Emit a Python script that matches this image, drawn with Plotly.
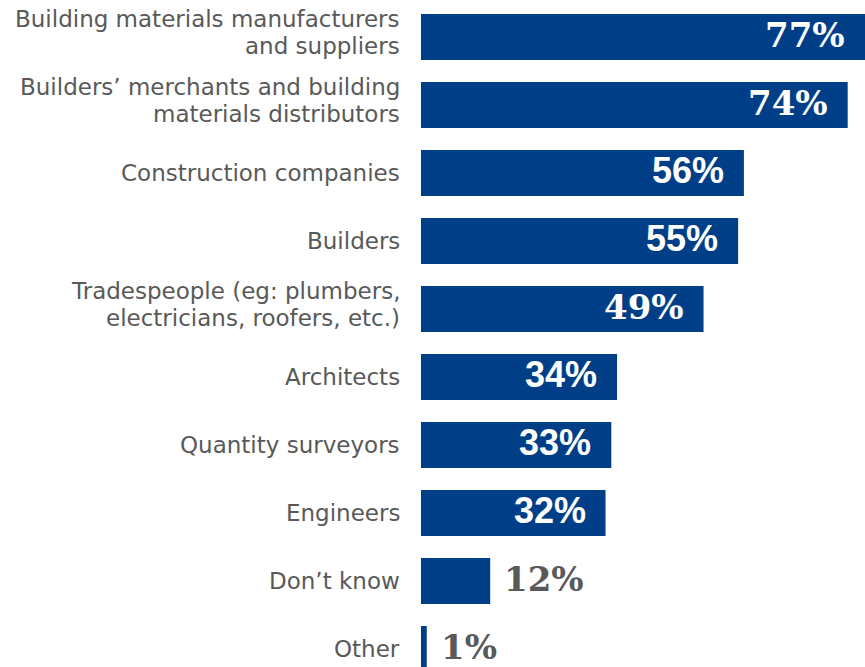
import plotly.graph_objects as go

# Survey categories, top to bottom
categories = [
    "Building materials manufacturers<br>and suppliers",
    "Builders’ merchants and building<br>materials distributors",
    "Construction companies",
    "Builders",
    "Tradespeople (eg: plumbers,<br>electricians, roofers, etc.)",
    "Architects",
    "Quantity surveyors",
    "Engineers",
    "Don’t know",
    "Other",
]
shares = [77, 74, 56, 55, 49, 34, 33, 32, 12, 1]
value_labels = ["77%", "74%", "56%", "55%", "49%", "34%", "33%", "32%", "12%", "1%"]

# Presentation settings
BAR_COLOR = "#003f87"
LABEL_COLOR = "#595959"
SERIF = "DejaVu Serif"
SANS = "Liberation Sans"
value_faces = [SERIF, SERIF, SANS, SANS, SERIF, SANS, SANS, SANS, SERIF, SERIF]
INSIDE_MIN = 20  # values below this are written beside the bar

idx = list(range(len(categories)))

fig = go.Figure(
    go.Bar(
        x=shares,
        y=idx,
        orientation="h",
        width=0.676,
        marker=dict(color=BAR_COLOR, line=dict(width=0)),
        hoverinfo="skip",
    )
)

annotations = []
LINE_PITCH = 27
for i, (label, v, txt, face) in enumerate(zip(categories, shares, value_labels, value_faces)):
    # Category label, one annotation per text line
    lines = label.split("<br>")
    n = len(lines)
    for k, line in enumerate(lines):
        offset = ((n - 1) / 2 - k) * LINE_PITCH + (4 if n > 1 else 0)
        annotations.append(dict(
            x=0, xref="paper", y=i, yref="y",
            text=line, showarrow=False,
            xanchor="right", yanchor="middle",
            xshift=-19, yshift=offset,
            font=dict(family="DejaVu Sans", size=23, color=LABEL_COLOR),
        ))
    # Value label
    inside = v >= INSIDE_MIN
    size = 34 if face == SERIF else 36
    annotations.append(dict(
        x=v, xref="x", y=i, yref="y",
        text=f"<b>{txt}</b>", showarrow=False,
        xanchor="right" if inside else "left", yanchor="middle",
        xshift=-18 if inside else 12, yshift=2,
        font=dict(family=face, size=size, color="white" if inside else LABEL_COLOR),
    ))

fig.update_layout(
    width=865, height=667,
    margin=dict(l=421, r=0, t=0, b=0),
    paper_bgcolor="white", plot_bgcolor="white",
    showlegend=False,
    xaxis=dict(range=[0, 77], visible=False, fixedrange=True),
    yaxis=dict(range=[9.265, -0.544], visible=False, fixedrange=True),
    annotations=annotations,
)

fig.write_html("out.html")
